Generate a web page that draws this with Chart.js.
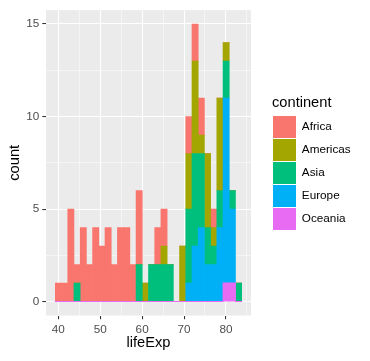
<!DOCTYPE html>
<html>
<head>
<meta charset="utf-8">
<title>lifeExp histogram</title>
<script src="https://cdn.jsdelivr.net/npm/chart.js@4.4.0/dist/chart.umd.min.js"></script>
<style>
    html, body { margin: 0; padding: 0; background: #ffffff; }
    .c-chart { width: 370px; height: 361px; }
</style>
</head>
<body>
<div class="c-chart"><canvas id="js-lifeExpChart"></canvas></div>
<script>
// 30 bins of lifeExp (gapminder, 2007), bin width ~1.482
const binCenters = [40.025, 41.508, 42.990, 44.472, 45.955, 47.437, 48.920, 50.402, 51.884, 53.367,
                    54.849, 56.332, 57.814, 59.297, 60.779, 62.261, 63.744, 65.226, 66.709, 68.191,
                    69.673, 71.156, 72.638, 74.121, 75.603, 77.086, 78.568, 80.050, 81.533, 83.015];

const continents = ["Africa", "Americas", "Asia", "Europe", "Oceania"];

// counts per bin
const africa   = [1, 1, 5, 1, 4, 2, 4, 3, 4, 2,  4, 4, 2, 4, 0, 0, 2, 2, 0, 0,  0, 2, 2, 2, 0, 1, 0, 0, 0, 0];
const americas = [0, 0, 0, 0, 0, 0, 0, 0, 0, 0,  0, 0, 0, 0, 1, 0, 0, 1, 0, 0,  3, 3, 5, 1, 4, 1, 5, 1, 0, 0];
const asia     = [0, 0, 0, 1, 0, 0, 0, 0, 0, 0,  0, 0, 0, 2, 0, 2, 2, 2, 2, 0,  0, 4, 5, 4, 2, 1, 2, 2, 1, 1];
const europe   = [0, 0, 0, 0, 0, 0, 0, 0, 0, 0,  0, 0, 0, 0, 0, 0, 0, 0, 0, 0,  0, 1, 3, 4, 2, 2, 4, 10, 4, 0];
const oceania  = [0, 0, 0, 0, 0, 0, 0, 0, 0, 0,  0, 0, 0, 0, 0, 0, 0, 0, 0, 0,  0, 0, 0, 0, 0, 0, 0, 1, 1, 0];

const xTicks = [40, 50, 60, 70, 80];
const yTicks = [0, 5, 10, 15];

const colors = {
    Africa: "#F8766D",
    Americas: "#A3A500",
    Asia: "#00BF7D",
    Europe: "#00B0F6",
    Oceania: "#E76BF3"
};

function toPoints(counts) {
    var points = [];
    counts.forEach((count, i) => {
        points.push({ x: binCenters[i], y: count });
    });
    return points;
}

function isMajor(c, list) {
    return !!(c && c.tick && list.includes(c.tick.value));
}

// stack from the bottom: Oceania first, Africa on top (like ggplot)
const seriesByName = { Africa: africa, Americas: americas, Asia: asia, Europe: europe, Oceania: oceania };
const datasets = continents.slice().reverse().map((name) => ({
    label: name,
    data: toPoints(seriesByName[name]),
    backgroundColor: colors[name],
    borderWidth: 0,
    barPercentage: 1,
    categoryPercentage: 1,
    inflateAmount: name === "Oceania" ? 0.5 : "auto"
}));

// grey panel behind the grid
const panelBackground = {
    id: "panelBackground",
    beforeDraw(chart) {
        const { ctx, chartArea } = chart;
        ctx.save();
        ctx.fillStyle = "#EBEBEB";
        ctx.fillRect(chartArea.left, chartArea.top, chartArea.right - chartArea.left, chartArea.bottom - chartArea.top);
        ctx.restore();
    }
};

// put the legend where ggplot has it
const legendPlacer = {
    id: "legendPlacer",
    afterLayout(chart) {
        const legend = chart.legend;
        legend.left = 272;
        legend.right = 370;
        legend.top = 0;
        legend.bottom = 361;
        legend.width = 98;
        legend.height = 361;
    }
};

Chart.defaults.font.family = "'Liberation Sans', Arial, sans-serif";

const ctx = document.getElementById("js-lifeExpChart");
const lifeExpChart = new Chart(ctx, {
    type: "bar",
    data: { datasets: datasets },
    plugins: [panelBackground, legendPlacer],
    options: {
        responsive: true,
        maintainAspectRatio: false,
        animation: false,
        layout: { padding: { top: 7, right: 118, bottom: 0, left: 0 } },
        plugins: {
            tooltip: { enabled: false },
            legend: {
                position: "right",
                align: "start",
                reverse: true,
                maxWidth: 1,
                title: {
                    display: true,
                    text: "continent",
                    position: "start",
                    color: "#000000",
                    font: { size: 14.67 },
                    padding: { top: 95.3, bottom: 2.1 }
                },
                labels: {
                    boxWidth: 23,
                    boxHeight: 22,
                    padding: 1,
                    color: "#000000",
                    font: { size: 11.73 }
                }
            }
        },
        scales: {
            x: {
                type: "linear",
                stacked: true,
                min: 37.06,
                max: 85.98,
                offset: false,
                border: { display: false },
                grid: {
                    offset: false,
                    color: "#FFFFFF",
                    lineWidth: (c) => isMajor(c, xTicks) ? 1.07 : 0.53,
                    tickColor: (c) => isMajor(c, xTicks) ? "#333333" : "rgba(0,0,0,0)",
                    tickWidth: 1.07,
                    tickLength: 3.7
                },
                ticks: {
                    stepSize: 5,
                    includeBounds: false,
                    autoSkip: false,
                    maxRotation: 0,
                    padding: 4,
                    color: "#4D4D4D",
                    font: { size: 11.73 },
                    callback: function(value) {
                        return xTicks.includes(value) ? String(value) : "";
                    }
                },
                title: {
                    display: true,
                    text: "lifeExp",
                    color: "#000000",
                    font: { size: 14.67 },
                    padding: { top: 0, bottom: 9.3 }
                },
                afterFit: (scale) => { scale.height = 45.5; }
            },
            y: {
                stacked: true,
                min: -0.75,
                max: 15.75,
                border: { display: false },
                grid: {
                    offset: false,
                    color: "#FFFFFF",
                    lineWidth: (c) => isMajor(c, yTicks) ? 1.07 : 0.53,
                    tickColor: (c) => isMajor(c, yTicks) ? "#333333" : "rgba(0,0,0,0)",
                    tickWidth: 1.07,
                    tickLength: 3.7
                },
                ticks: {
                    stepSize: 2.5,
                    includeBounds: false,
                    autoSkip: false,
                    padding: 3.1,
                    color: "#4D4D4D",
                    font: { size: 11.73 },
                    callback: function(value) {
                        return yTicks.includes(value) ? String(value) : "";
                    }
                },
                title: {
                    display: true,
                    text: "count",
                    color: "#000000",
                    font: { size: 14.67 },
                    padding: { top: 6.2, bottom: 0 }
                },
                afterFit: (scale) => { scale.width = 46; }
            }
        }
    }
});
</script>
</body>
</html>
